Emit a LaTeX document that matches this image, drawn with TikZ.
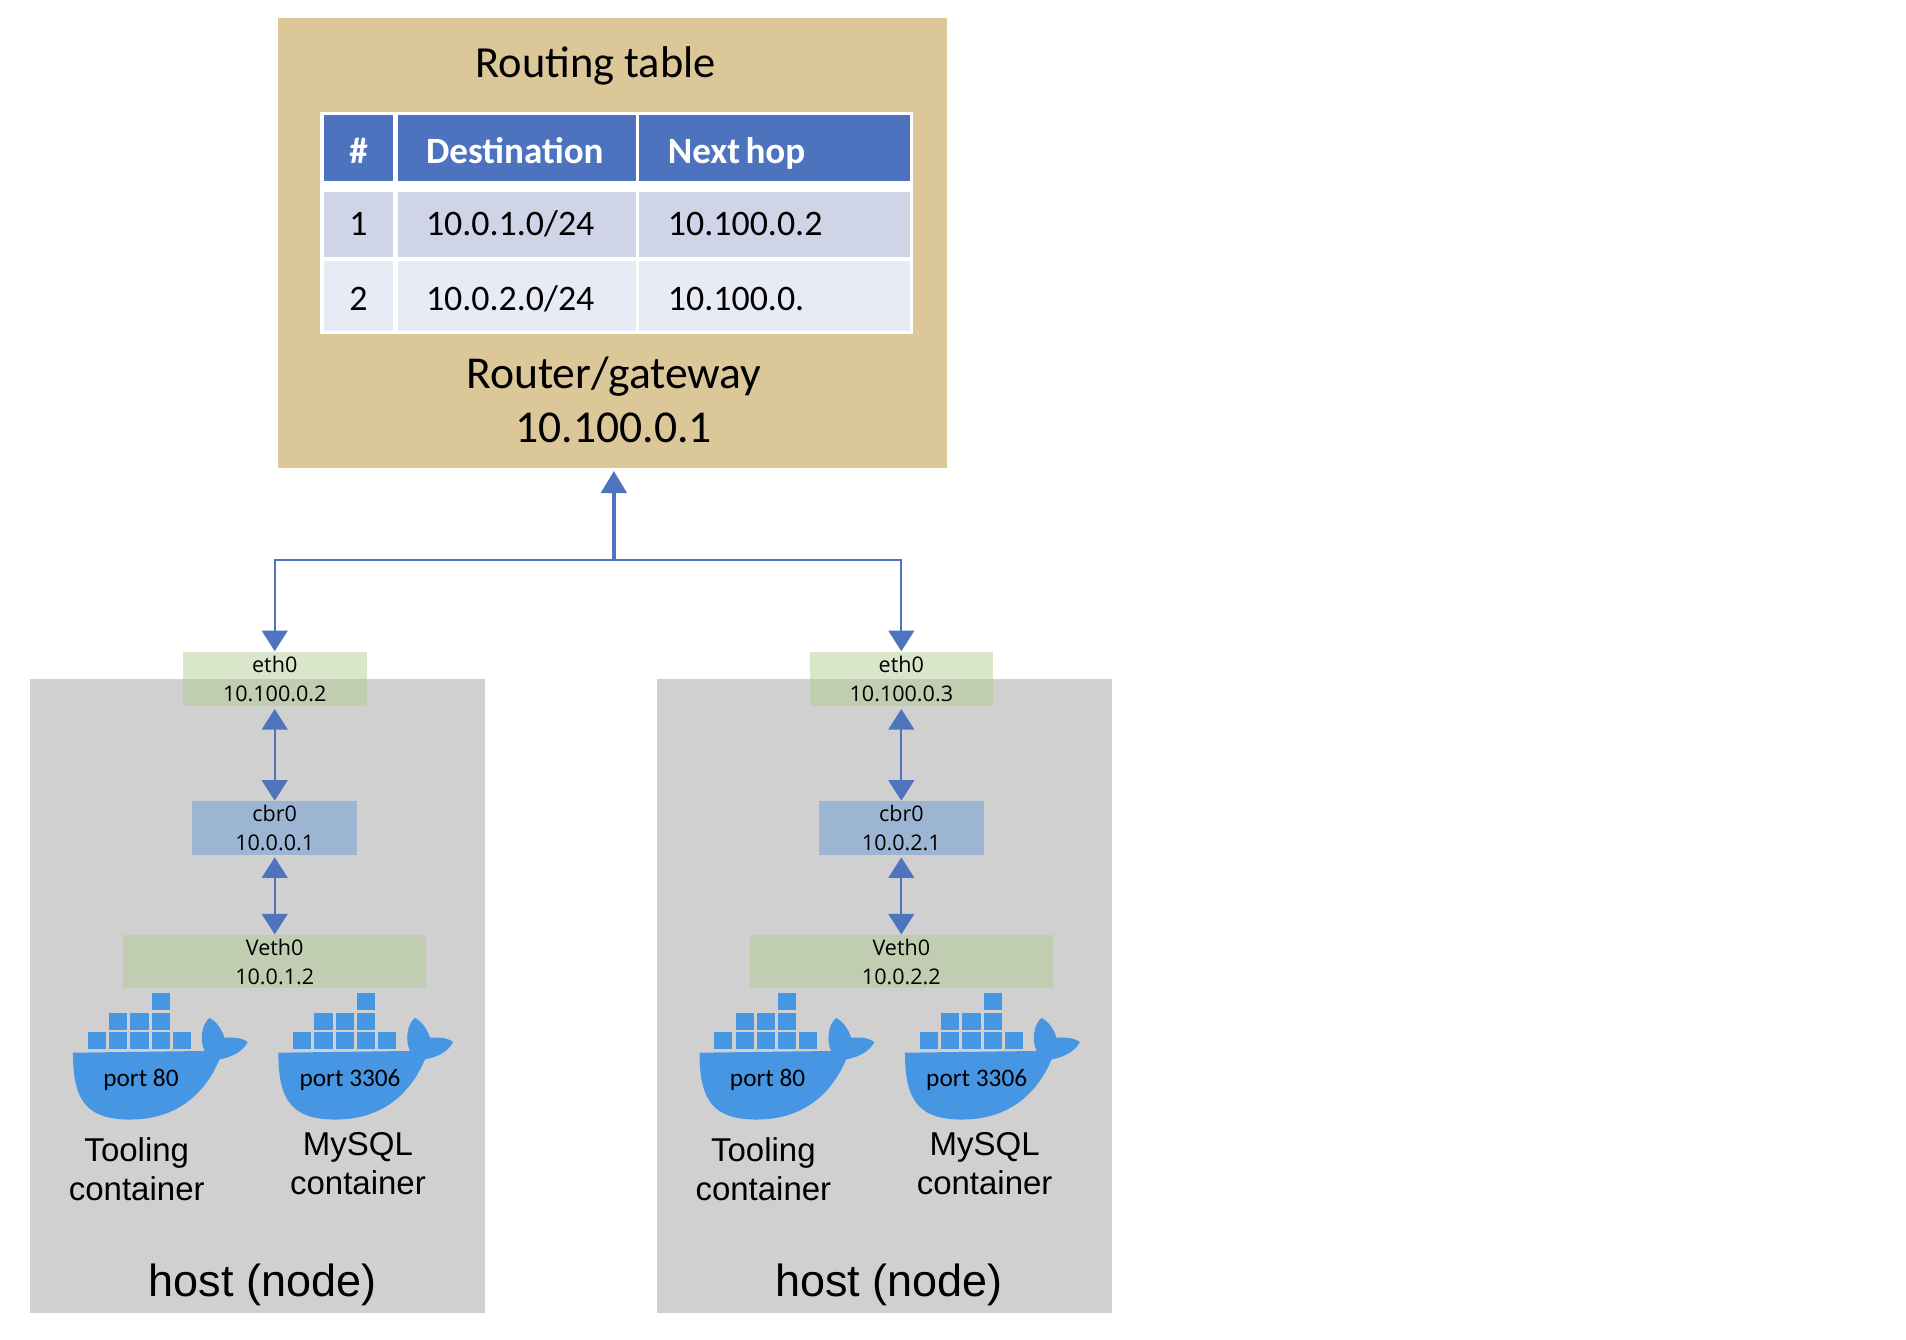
\documentclass[tikz,border=0pt]{standalone}
\usepackage{fontspec}
\setmainfont{Carlito}
\newfontfamily\labelfont{Open Sans}
\newfontfamily\hostfont{Liberation Sans}
\usetikzlibrary{
    arrows.meta,
    calc,
    positioning
}
\definecolor{goldbg}{HTML}{DBC797}
\definecolor{hostbg}{HTML}{D0D0D0}
\definecolor{headblue}{HTML}{4D72BE}
\definecolor{rowdark}{HTML}{CFD5E6}
\definecolor{rowlight}{HTML}{E8EBF5}
\definecolor{linkblue}{HTML}{4E74BE}
\definecolor{whaleblue}{HTML}{4796E3}
\definecolor{ethgreen}{RGB}{176,202,140}
\definecolor{cbrblue}{HTML}{9CB5D3}
\tikzset{
    box/.style={inner sep=0pt, draw=none, align=center},
    nic/.style={box, fill=ethgreen, fill opacity=0.47, text opacity=1, font=\labelfont\fontsize{12.6}{17}\selectfont},
    cbr/.style={box, fill=cbrblue, minimum width=3.4cm, minimum height=1.1cm, font=\labelfont\fontsize{12.6}{17}\selectfont},
    cell/.style 2 args={box, minimum height=#1, text height=#2, text depth=3pt},
    numcol/.style={minimum width=1.425cm},
    dstcol/.style={text width=3.75cm, inner xsep=0.575cm, align=left},
    hopcol/.style={text width=4.375cm, inner xsep=0.6cm, align=left},
    link/.style={draw=linkblue, line width=1.3pt},
    tipped/.style={link, {Triangle[width=15pt,length=12pt]}-{Triangle[width=15pt,length=12pt]}},
    whale/.pic={
        \fill[whaleblue] (0,0) -- (108.3,-1.4)
            .. controls (104,-10) and (106,-24) .. (112.4,-28.6)
            .. controls (119,-25) and (123,-18) .. (124.7,-12.3)
            .. controls (132,-13) and (140,-12) .. (143.8,-8.7)
            .. controls (140,-1) and (130,4) .. (120.6,5.5)
            .. controls (112,26) and (92,55) .. (46.9,55)
            .. controls (10,55) and (0,38) .. (0,0) -- cycle;
        \foreach \cx/\cy in {12/-17,29.6/-17,47.2/-17,64.7/-17,82/-17,29.6/-33,47.2/-33,64.7/-33,64.7/-49} {
            \fill[whaleblue] (\cx,\cy) rectangle ++(15,14);
        }
    }
}

\begin{document}
\begin{tikzpicture}[x=0.025cm, y=-0.025cm]
    \useasboundingbox (0,0) rectangle (1568,1102.3);

    % router and its table
    \node[box, fill=goldbg, minimum width=13.75cm, minimum height=9.25cm] (router) at (504,200) {};
    \node[box, fill=white, minimum width=12.2cm, minimum height=4.575cm] (rtable) at (507,183.5) {};
    \node[font=\fontsize{26}{30}\selectfont] (rtitle) at (490,54) {Routing table};
    \node[font=\fontsize{26.7}{32}\selectfont, align=center] (rname) at (505,329) {Router/gateway\\[0pt]10.100.0.1};

    \begin{scope}[every node/.append style={font=\fontsize{21.7}{25}\selectfont\bfseries, text=white, fill=headblue}]
        \node[cell={1.35cm}{21pt}, numcol] (h1) at (295,122) {\#};
        \node[cell={1.35cm}{21pt}, dstcol] (h2) at (425.5,122) {Destination};
        \node[cell={1.35cm}{21pt}, hopcol] (h3) at (637,122) {\spaceskip=0.14em Next hop};
    \end{scope}
    \foreach \r/\y/\h/\t/\c/\dst/\hop in {1/184.5/1.325cm/16.4pt/rowdark/10.0.1.0\slash 24/10.100.0.2,
                                          2/243.5/1.425cm/19.4pt/rowlight/10.0.2.0\slash 24/10.100.0.} {
        \begin{scope}[every node/.append style={font=\fontsize{21}{25}\selectfont, fill=\c}]
            \node[cell={\h}{\t}, numcol] (n\r) at (295,\y) {\r};
            \node[cell={\h}{\t}, dstcol] (d\r) at (425.5,\y) {\dst};
            \node[cell={\h}{\t}, hopcol] (o\r) at (637,\y) {\hop};
        \end{scope}
    }

    % the two hosts
    \foreach \n/\dx/\ethip/\cbrip/\vethip in {l/0/10.100.0.2/10.0.0.1/10.0.1.2, r/515.5/10.100.0.3/10.0.2.1/10.0.2.2} {
        \begin{scope}[shift={(\dx,0)}]
            \node[box, fill=hostbg, minimum width=9.35cm, minimum height=13.025cm] (host\n) at (212,819.5) {};
            \node[nic, minimum width=3.775cm, minimum height=1.125cm] (eth\n) at (226,558.5) {eth0\\\ethip};
            \node[cbr] (cbr\n) at (226,681) {cbr0\\\cbrip};
            \node[nic, minimum width=6.225cm, minimum height=1.1cm] (veth\n) at (226,791) {Veth0\\\vethip};
            \draw[tipped] (eth\n.south) ++(0,2) -- (cbr\n.north);
            \draw[tipped] (cbr\n.south) ++(0,2) -- (veth\n.north);

            \pic (whalea\n) at (60,866) {whale};
            \pic (whaleb\n) at (229,866) {whale};
            \node[font=\fontsize{14.8}{17}\selectfont] (porta\n) at (116,888.5) {port 80};
            \node[font=\fontsize{14.8}{17}\selectfont] (portb\n) at (288,888.5) {port 3306};
            \node[font=\hostfont\fontsize{19.3}{22.8}\selectfont, align=center] (toola\n) at (112.5,962) {Tooling\\container};
            \node[font=\hostfont\fontsize{19.3}{22.8}\selectfont, align=center] (toolb\n) at (294.5,957) {MySQL\\container};
            \node[font=\hostfont\fontsize{26.3}{32}\selectfont] (hostname\n) at (216,1057) {host (node)};
        \end{scope}
    }

    % uplinks
    \coordinate (junction) at (505,461);
    \draw[link, line width=2pt, -{Triangle[width=15pt,length=13pt]}, shorten >=1.5pt] (junction) -- (junction |- router.south);
    \draw[link, -{Triangle[width=15pt,length=12pt]}] (junction) -| (ethl.north);
    \draw[link, -{Triangle[width=15pt,length=12pt]}] (junction) -| (ethr.north);
\end{tikzpicture}
\end{document}
